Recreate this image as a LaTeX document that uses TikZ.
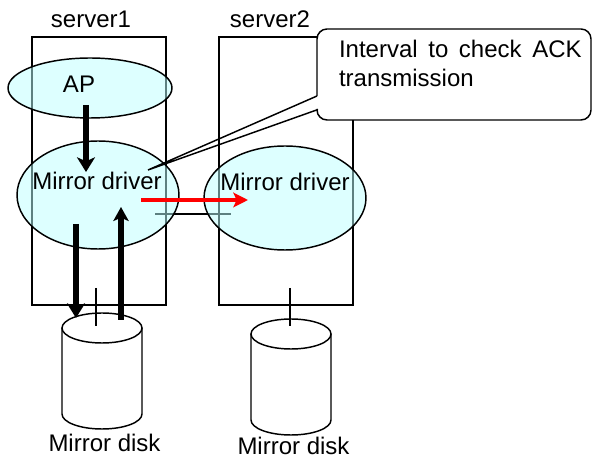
\documentclass[tikz,border=0pt]{standalone}
\usepackage{fontspec}
\setmainfont{Liberation Sans}
\usetikzlibrary{arrows.meta,shapes.geometric}
\definecolor{ellfill}{RGB}{187,255,255}
\begin{document}
\begin{tikzpicture}[x=0.75pt,y=-0.75pt,
  every node/.style={font=\fontsize{18}{21}\selectfont, inner sep=0pt, outer sep=0pt},
  srvbox/.style={draw, line width=1.1pt, anchor=north west, minimum width=100.5pt, minimum height=201pt},
  ell/.style={ellipse, draw, line width=1.1pt, fill=ellfill, fill opacity=0.5, draw opacity=1},
  thin/.style={line width=1.1pt},
  flow/.style={line width=3.9pt, -{Stealth[length=11pt,width=13.5pt,inset=3pt]}},
  flowsmall/.style={line width=3.9pt, -{Stealth[length=10.5pt,width=11.5pt,inset=2.5pt]}},
  redflow/.style={line width=3.6pt, red, -{Stealth[length=11pt,width=11pt,inset=2.5pt]}},
  lbl/.style={anchor=base}
]
\useasboundingbox (0,0) rectangle (593,459);

% servers
\node[srvbox] (s1) at (32,37) {};
\node[srvbox] (s2) at (219,37) {};
\node[lbl] (s1lbl) at (91,28) {server1};
\node[lbl] (s2lbl) at (270,28) {server2};

% link line between drivers
\coordinate (la) at (155,214);
\coordinate (lb) at (231,214);
\draw[thin] (la) -- (lb);

% ellipses
\node[ell, minimum width=123pt, minimum height=45pt] (ap) at (90,88) {};
\node[ell, minimum width=121.5pt, minimum height=81pt] (md1) at (98,195) {};
\node[ell, minimum width=121.5pt, minimum height=78pt] (md2) at (285,198) {};
\node[lbl] (aptxt) at (79,93) {AP};
\node[lbl] (md1txt) at (97,190) {Mirror driver};
\node[lbl] (md2txt) at (285,191) {Mirror driver};

% callout
\fill[white, rounded corners=7.5pt] (317,29) rectangle (591,120);
\draw[thin, rounded corners=7.5pt] (317,96) -- (317,29) -- (591,29) -- (591,120) -- (317,120) -- (317,109);
\coordinate (ctip) at (148,170);
\coordinate (cu) at (317,96);
\coordinate (cl) at (318,109.5);
\draw[thin] (cu) -- (ctip) -- (cl);
\node[anchor=base west] (cl1) at (339,58) {\makebox[182pt][s]{Interval to check ACK}};
\node[anchor=base west] (cl2) at (339,87) {transmission};

% disks
\draw[thin, fill=white] (62,328) -- (62,414) arc[start angle=180, end angle=0, x radius=40, y radius=15] -- (142,328);
\draw[thin] (102,328) ellipse[x radius=40, y radius=15];
\draw[thin, fill=white] (251,334) -- (251,420) arc[start angle=180, end angle=0, x radius=40, y radius=15] -- (331,334);
\draw[thin] (291,334) ellipse[x radius=40, y radius=15];
\coordinate (d1a) at (96,288);
\coordinate (d1b) at (96,326);
\coordinate (d2a) at (290,288);
\coordinate (d2b) at (290,326);
\draw[thin] (d1a) -- (d1b);
\draw[thin] (d2a) -- (d2b);
\node[lbl] (disk1lbl) at (104.5,452) {Mirror disk};
\node[lbl] (disk2lbl) at (293.5,455) {Mirror disk};

% arrows
\coordinate (a1s) at (86,105);
\coordinate (a1e) at (86,172);
\coordinate (a2s) at (76,224);
\coordinate (a2e) at (76,318);
\coordinate (a3s) at (121,320);
\coordinate (a3e) at (121,207);
\coordinate (a4s) at (141,200);
\coordinate (a4e) at (248,200);
\draw[flow] (a1s) -- (a1e);
\draw[flow] (a2s) -- (a2e);
\draw[flowsmall] (a3s) -- (a3e);
\draw[redflow] (a4s) -- (a4e);
\end{tikzpicture}
\end{document}
